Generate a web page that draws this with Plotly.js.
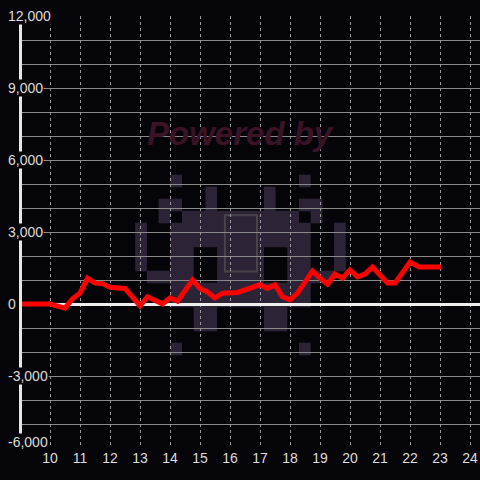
<!DOCTYPE html>
<html>
<head>
<meta charset="utf-8">
<script src="https://cdn.plot.ly/plotly-3.0.1.min.js"></script>
<style>
html,body{margin:0;padding:0;background:#050408;}
#chart{width:480px;height:480px;}
</style>
</head>
<body>
<div id="chart"></div>
<script>
// Data
const hours = [9.0, 10.0, 10.5, 10.75, 11.0, 11.25, 11.5, 11.75, 12.0, 12.5, 13.0, 13.25, 13.75, 14.0, 14.25, 14.5, 14.75, 15.0, 15.25, 15.5, 15.75, 16.25, 16.75, 17.0, 17.25, 17.5, 17.75, 18.0, 18.25, 18.75, 19.0, 19.25, 19.5, 19.75, 20.0, 20.25, 20.5, 20.75, 21.25, 21.5, 22.0, 22.3, 23.03];
const values = [0, 0, -170, 220, 450, 1080, 870, 850, 700, 650, -80, 300, 0, 250, 120, 580, 1000, 650, 500, 250, 450, 480, 720, 800, 650, 800, 300, 170, 450, 1370, 1080, 830, 1250, 1080, 1420, 1130, 1250, 1540, 870, 870, 1750, 1540, 1540];
const xTickVals = [10, 11, 12, 13, 14, 15, 16, 17, 18, 19, 20, 21, 22, 23, 24];
const xTickText = ['10', '11', '12', '13', '14', '15', '16', '17', '18', '19', '20', '21', '22', '23', '24'];
const yTickVals = [-6000, -3000, 0, 3000, 6000, 9000, 12000];
const yTickText = ['-6,000', '-3,000', '0', '3,000', '6,000', '9,000', '12,000'];

// Watermark logo pixel map (decoration only)
const logoRows = [
  '...X..........X...',
  '......X....X......',
  '..XX..X....X..XX..',
  '..X.XXXXXXXXXX.X..',
  'X..XXXXXXXXXXXX..X',
  'X..XXXXXXXXXXXX..X',
  'X..XX..XXXX..XX..X',
  'X..XX..XXXX..XX..X',
  '.XXXX..XXXX..XXXX.',
  '...XXXXXXXXXXXX...',
  '...XXXXXXXXXXXX...',
  '.....XX....XX.....',
  '.....XX....XX.....',
  '..................',
  '...X..........X...'
];

const BG = '#050408';
const shapes = [];
const pw = 0.39, ph = 500, lx0 = 16.35 - 9 * 0.39, yTop = 5375;
logoRows.forEach((row, j) => {
  let i = 0;
  while (i < row.length) {
    if (row[i] === 'X') {
      let k = i;
      while (k < row.length && row[k] === 'X') k++;
      shapes.push({type: 'rect', xref: 'x', yref: 'y', layer: 'below',
        x0: lx0 + i * pw, x1: lx0 + k * pw,
        y0: yTop - j * ph + 15, y1: yTop - (j + 1) * ph - 15,
        fillcolor: '#2c2337', line: {width: 0}});
      i = k;
    } else i++;
  }
});
shapes.push({type: 'rect', xref: 'x', yref: 'y', layer: 'below',
  x0: 15.83, x1: 16.9, y0: 1350, y1: 3700,
  fillcolor: 'rgba(0,0,0,0)', line: {color: '#4a4448', width: 2}});

const trace = {
  x: hours, y: values, type: 'scatter', mode: 'lines',
  line: {color: '#ff0000', width: 5},
  hoverinfo: 'skip'
};

const ML = 22, PW = 480 - ML;
const annotations = yTickVals.map((v, idx) => ({
  text: yTickText[idx], xref: 'paper', yref: 'y', x: (7 - ML) / PW, y: v,
  xanchor: 'left', yanchor: 'middle', showarrow: false,
  yshift: v === -6000 ? 6 : 0,
  bgcolor: BG, borderpad: 0,
  font: {family: 'Liberation Sans, Arial, sans-serif', size: 14, color: '#dddddd'}
}));
annotations.push({
  text: 'Powered by', xref: 'paper', yref: 'paper', x: 0.478, y: 0.727,
  xanchor: 'center', yanchor: 'middle', showarrow: false,
  font: {family: 'Liberation Sans, Arial, sans-serif', size: 33, color: '#3a1327', weight: 'bold', style: 'italic'}
});

const layout = {
  width: 480, height: 480,
  paper_bgcolor: BG, plot_bgcolor: BG,
  margin: {l: ML, r: 0, t: 16, b: 32},
  showlegend: false,
  font: {family: 'Liberation Sans, Arial, sans-serif', size: 14, color: '#dddddd'},
  xaxis: {
    range: [10 - 28 / 30, 10 + 430 / 30], tickmode: 'array', tickvals: xTickVals, ticktext: xTickText,
    showgrid: true, gridcolor: '#9a9a9a', gridwidth: 1, griddash: 'dot',
    zeroline: false, showline: false, ticks: '',
    tickfont: {size: 14, color: '#dddddd'}
  },
  yaxis: {
    range: [-6000, 12000], tickmode: 'array', tickvals: yTickVals, ticktext: yTickText,
    showticklabels: false,
    showgrid: true, gridcolor: '#8a8a8a', gridwidth: 1,
    minor: {dtick: 1000, tick0: 0, showgrid: true, gridcolor: '#8a8a8a', gridwidth: 1, ticks: ''},
    zeroline: true, zerolinecolor: '#eeeeee', zerolinewidth: 3,
    showline: true, linecolor: '#e6e6e6', linewidth: 3,
    ticks: ''
  },
  shapes: shapes,
  annotations: annotations
};

Plotly.newPlot('chart', [trace], layout, {displayModeBar: false, staticPlot: true});
</script>
</body>
</html>
